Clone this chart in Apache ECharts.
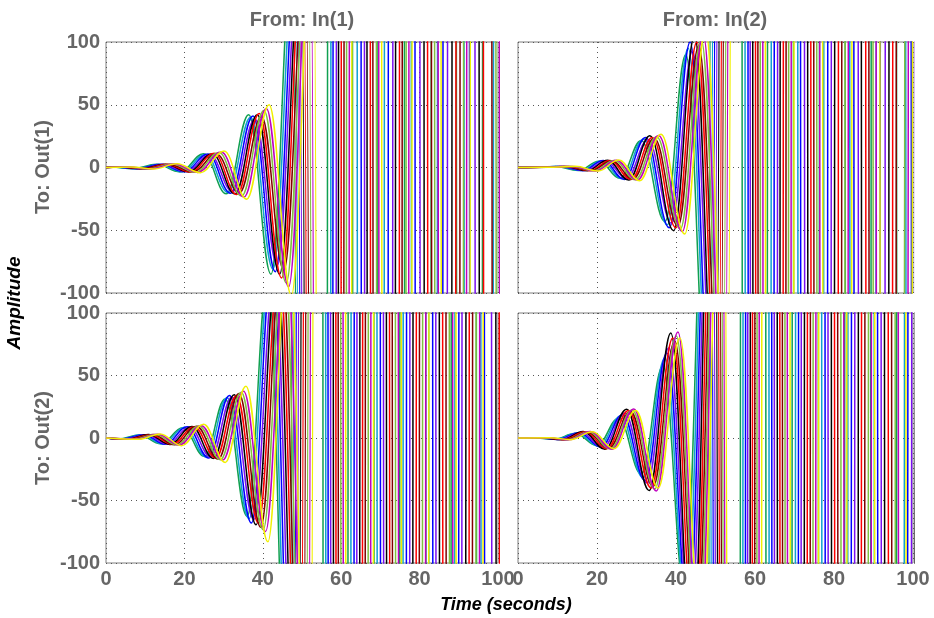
<!DOCTYPE html>
<html><head><meta charset="utf-8">
<script src="https://cdn.jsdelivr.net/npm/echarts@6.0.0/dist/echarts.min.js"></script>
<style>html,body{margin:0;padding:0;background:#fff}#c{width:934px;height:618px}</style>
</head><body><div id="c"></div>
<script>
// Tick labels
const timeTicks = [0, 20, 40, 60, 80, 100];
const ampTicks = [-100, -50, 0, 50, 100];
const colTitles = ['From: In(1)', 'From: In(2)'];
const rowTitles = ['To: Out(1)', 'To: Out(2)'];
const modelNames = ['m1','m2','m3','m4','m5','m6','m7','m8','m9','m10'];
const modelColors = ['#10a050','#10a0d0','#0000ff','#7a10f0','#000000','#ff0000','#800000','#80c040','#c000c0','#f0f000'];

// Step responses [time, amplitude], In(1) -> Out(1)
const TL = [
 [[0,0],[1.4,.3],[6.9,-1],[12.9,2.5],[18.9,-3.5],[24.9,11],[30.7,-21],[36.4,42],[42.1,-85],[47.7,180],[53.4,-1e4],[59.6,1e4],[66.2,-1e4],[72.5,1e4],[79.8,-1e4],[86.1,1e4],[92.7,-1e4],[99.4,1e4],[105,-1e4]],
 [[0,0],[1.9,.3],[7.4,-1],[13.4,2.4],[19.4,-3.3],[25.4,10.5],[31.2,-20],[36.9,40],[42.6,-81],[48.2,171],[53.9,-1e4],[60.8,1e4],[67.4,-1e4],[74.6,1e4],[81.2,-1e4],[87.9,1e4],[94.8,-1e4],[101,1e4]],
 [[0,0],[2.5,.3],[8,-1],[14,2.5],[20,-3.4],[26,10.8],[31.8,-20.6],[37.5,41],[43.2,-83],[48.8,176],[54.5,-1e4],[61.3,1e4],[68.9,-1e4],[75.1,1e4],[82.6,-1e4],[89.3,1e4],[96.2,-1e4],[103,1e4]],
 [[0,0],[3,.3],[8.5,-.9],[14.5,2.3],[20.5,-3.2],[26.5,10.1],[32.3,-19.3],[38,38.6],[43.7,-78],[49.3,166],[55.1,-1e4],[62.4,1e4],[69.5,-1e4],[76.8,1e4],[83.4,-1e4],[90.8,1e4],[97.5,-1e4],[104,1e4]],
 [[0,0],[3.6,.3],[9.1,-1],[15.1,2.5],[21.1,-3.5],[27.1,11],[32.9,-21],[38.6,42],[44.3,-85],[49.9,180],[55.7,-1e4],[62.9,1e4],[70.3,-1e4],[77.4,1e4],[84.9,-1e4],[91.6,1e4],[98.8,-1e4],[105,1e4]],
 [[0,0],[4.1,.3],[9.6,-1],[15.6,2.6],[21.6,-3.6],[27.6,11.3],[33.4,-21.6],[39.1,43],[44.8,-88],[50.4,185],[56.3,-1e4],[63.7,1e4],[71.2,-1e4],[78.5,1e4],[85.6,-1e4],[92.9,1e4],[99.7,-1e4],[106,1e4]],
 [[0,0],[4.7,.3],[10.2,-1],[16.2,2.4],[22.2,-3.4],[28.2,10.7],[34,-20.4],[39.7,40.7],[45.4,-82],[51,175],[57,-1e4],[64.4,1e4],[71.8,-1e4],[79.3,1e4],[86.8,-1e4],[93.8,1e4],[101,-1e4]],
 [[0,0],[5.3,.3],[10.8,-1.1],[16.8,2.7],[22.8,-3.8],[28.8,11.9],[34.6,-22.7],[40.3,45.4],[46,-92],[51.6,194],[57.6,-1e4],[65.1,1e4],[72.9,-1e4],[80.2,1e4],[87.5,-1e4],[94.9,1e4],[102,-1e4]],
 [[0,0],[5.9,.3],[11.4,-1.1],[17.4,2.8],[23.4,-3.9],[29.4,12.3],[35.2,-23.5],[40.9,47],[46.6,-95],[52.2,202],[58.3,-1e4],[65.8,1e4],[73.4,-1e4],[81.1,1e4],[88.4,-1e4],[95.6,1e4],[103,-1e4]],
 [[0,0],[6.6,.4],[12.1,-1.2],[18.1,3],[24.1,-4.2],[30.1,13.2],[35.9,-25.2],[41.6,50],[47.3,-102],[52.9,216],[58.9,-1e4],[66.5,1e4],[74.2,-1e4],[81.9,1e4],[89.1,-1e4],[96.7,1e4],[104,-1e4]]
];
// In(2) -> Out(1)
const TR = [
 [[0,0],[4,.2],[9.5,.7],[15.3,-2.3],[20.5,5],[25.8,-8.6],[31.2,21.6],[37.2,-43],[42.5,90],[48,-189],[53.6,1e4],[59.9,-1e4],[66.4,1e4],[73.1,-1e4],[79.5,1e4],[86.2,-1e4],[92.6,1e4],[99.1,-1e4],[105,1e4]],
 [[0,0],[4.6,.2],[10.1,.8],[15.9,-2.4],[21.1,5.2],[26.4,-9],[31.8,22.8],[37.8,-45.6],[43.1,95],[48.6,-200],[54.3,1e4],[60.7,-1e4],[67.5,1e4],[74.2,-1e4],[80.6,1e4],[87.4,-1e4],[93.9,1e4],[100.5,-1e4]],
 [[0,0],[5.1,.2],[10.6,.8],[16.4,-2.5],[21.6,5.5],[26.9,-9.5],[32.3,24],[38.3,-48],[43.6,100],[49.1,-210],[54.9,1e4],[61.6,-1e4],[68.1,1e4],[75,-1e4],[81.8,1e4],[88.3,-1e4],[95.1,1e4],[102,-1e4]],
 [[0,0],[5.7,.2],[11.2,.7],[17,-2.3],[22.2,5.1],[27.5,-8.8],[32.9,22.3],[38.9,-44.6],[44.2,93],[49.7,-195],[55.4,1e4],[62.2,-1e4],[69.2,1e4],[75.9,-1e4],[82.7,1e4],[89.6,-1e4],[96.3,1e4],[103,-1e4]],
 [[0,0],[6.2,.2],[11.7,.8],[17.5,-2.6],[22.7,5.8],[28,-10],[33.4,25.2],[39.4,-50.4],[44.7,105],[50.2,-220],[56.1,1e4],[62.8,-1e4],[69.9,1e4],[76.8,-1e4],[83.5,1e4],[90.4,-1e4],[97.4,1e4],[104,-1e4]],
 [[0,0],[6.8,.2],[12.3,.8],[18.1,-2.5],[23.3,5.5],[28.6,-9.5],[34,24],[40,-48],[45.3,100],[50.8,-210],[56.7,1e4],[63.6,-1e4],[70.7,1e4],[77.6,-1e4],[84.6,1e4],[91.5,-1e4],[98.2,1e4],[105,-1e4]],
 [[0,0],[7.3,.2],[12.8,.8],[18.6,-2.4],[23.8,5.3],[29.1,-9.2],[34.5,23.3],[40.5,-46.6],[45.8,97],[51.3,-204],[57.2,1e4],[64.3,-1e4],[71.4,1e4],[78.4,-1e4],[85.5,1e4],[92.2,-1e4],[99.3,1e4],[106,-1e4]],
 [[0,0],[7.9,.2],[13.4,.8],[19.2,-2.6],[24.4,5.6],[29.7,-9.7],[35.1,24.5],[41.1,-49],[46.4,102],[51.9,-214],[57.8,1e4],[64.9,-1e4],[72.1,1e4],[79.2,-1e4],[86.4,1e4],[93.4,-1e4],[100.3,1e4]],
 [[0,0],[8.4,.2],[13.9,.8],[19.7,-2.7],[24.9,5.8],[30.2,-10],[35.6,25.4],[41.6,-51],[46.9,106],[52.4,-223],[58.4,1e4],[65.6,-1e4],[72.7,1e4],[80.1,-1e4],[87.1,1e4],[94.3,-1e4],[101.2,1e4]],
 [[0,0],[9,.2],[14.5,.9],[20.3,-2.8],[25.5,6],[30.8,-10.5],[36.2,26.4],[42.2,-53],[47.5,110],[53,-231],[59.1,1e4],[66.2,-1e4],[73.5,1e4],[80.8,-1e4],[88.2,1e4],[95.1,-1e4],[102.4,1e4]]
];
// In(1) -> Out(2)
const BL = [
 [[0,0],[3.2,-.7],[8.5,2.5],[14,-4.6],[19.6,8.3],[25.1,-14.7],[30.4,31.3],[36,-62.6],[41.3,129],[46.7,-276],[52.3,1e4],[58.4,-1e4],[65.1,1e4],[71.6,-1e4],[78.3,1e4],[84.9,-1e4],[91.2,1e4],[97.8,-1e4],[104,1e4]],
 [[0,0],[3.7,-.8],[9,2.6],[14.5,-4.8],[20.1,8.6],[25.6,-15.2],[30.9,32.3],[36.5,-64.6],[41.8,133],[47.2,-285],[52.9,1e4],[59.2,-1e4],[65.8,1e4],[72.5,-1e4],[79.1,1e4],[85.6,-1e4],[92.4,1e4],[98.9,-1e4],[105,1e4]],
 [[0,0],[4.3,-.8],[9.6,2.7],[15.1,-5],[20.7,9],[26.2,-16],[31.5,34],[37.1,-68],[42.4,140],[47.8,-300],[53.4,1e4],[59.9,-1e4],[66.7,1e4],[73.3,-1e4],[80,1e4],[86.7,-1e4],[93.3,1e4],[99.8,-1e4],[106,1e4]],
 [[0,0],[4.9,-.8],[10.2,2.6],[15.7,-4.8],[21.3,8.6],[26.8,-15.4],[32.1,32.6],[37.7,-65.3],[43,134],[48.4,-288],[54,1e4],[60.6,-1e4],[67.4,1e4],[74.2,-1e4],[80.8,1e4],[87.5,-1e4],[94.1,1e4],[100.7,-1e4]],
 [[0,0],[5.5,-.8],[10.8,2.8],[16.3,-5.1],[21.9,9.2],[27.4,-16.3],[32.7,34.7],[38.3,-69.4],[43.6,143],[49,-306],[54.7,1e4],[61.3,-1e4],[68.2,1e4],[74.9,-1e4],[81.7,1e4],[88.4,-1e4],[95.2,1e4],[101.8,-1e4]],
 [[0,0],[6.1,-.8],[11.4,2.7],[16.9,-5],[22.5,9],[28,-16],[33.3,34],[38.9,-68],[44.2,140],[49.6,-300],[55.3,1e4],[62,-1e4],[68.9,1e4],[75.8,-1e4],[82.5,1e4],[89.3,-1e4],[96,1e4],[102.7,-1e4]],
 [[0,0],[6.7,-.8],[12,2.8],[17.5,-5.3],[23.1,9.5],[28.6,-16.8],[33.9,35.7],[39.5,-71.4],[44.8,147],[50.2,-315],[55.8,1e4],[62.7,-1e4],[69.6,1e4],[76.5,-1e4],[83.4,1e4],[90.1,-1e4],[96.9,1e4],[103.6,-1e4]],
 [[0,0],[7.3,-.9],[12.6,2.9],[18.1,-5.4],[23.7,9.7],[29.2,-17.3],[34.5,36.7],[40.1,-73.4],[45.4,151],[50.8,-324],[56.4,1e4],[63.4,-1e4],[70.4,1e4],[77.3,-1e4],[84.2,1e4],[91,-1e4],[97.8,1e4],[104.5,-1e4]],
 [[0,0],[7.9,-.9],[13.2,3],[18.7,-5.5],[24.3,9.9],[29.8,-17.6],[35.1,37.4],[40.7,-74.8],[46,154],[51.4,-330],[57,1e4],[64,-1e4],[71.1,1e4],[78.1,-1e4],[85,1e4],[91.9,-1e4],[98.7,1e4],[105.4,-1e4]],
 [[0,0],[8.5,-1],[13.8,3.3],[19.3,-6.1],[24.9,11],[30.4,-19.5],[35.7,41.5],[41.3,-83],[46.6,171],[52,-366],[57.6,1e4],[64.7,-1e4],[71.8,1e4],[78.9,-1e4],[85.8,1e4],[92.8,-1e4],[99.6,1e4],[106,-1e4]]
];
// In(2) -> Out(2)
const BR = [
 [[0,0],[3.7,.2],[9.1,-.9],[14.5,3.6],[20,-6.1],[25.5,15.8],[31.2,-28.8],[36.7,57.6],[42.2,-122],[47.7,252],[53.1,-1e4],[59.5,1e4],[66,-1e4],[72.8,1e4],[79.3,-1e4],[86.1,1e4],[92.5,-1e4],[99.2,1e4],[105,-1e4]],
 [[0,0],[4.2,.2],[9.6,-1],[15,4],[20.5,-6.8],[26,17.6],[31.7,-32],[37.2,64],[42.7,-136],[48.2,280],[53.7,-1e4],[60.2,1e4],[66.9,-1e4],[73.6,1e4],[80.2,-1e4],[86.8,1e4],[93.6,-1e4],[100.1,1e4]],
 [[0,0],[4.7,.3],[10.1,-1.1],[15.5,4.3],[21,-7.2],[26.5,18.7],[32.2,-34],[37.7,68],[43.2,-145],[48.7,298],[54.3,-1e4],[60.9,1e4],[67.6,-1e4],[74.4,1e4],[81.1,-1e4],[87.7,1e4],[94.4,-1e4],[101,1e4]],
 [[0,0],[5.2,.3],[10.6,-1.2],[16,4.5],[21.5,-7.7],[27,19.8],[32.7,-36],[38.2,72],[43.7,-153],[49.2,315],[54.8,-1e4],[61.5,1e4],[68.3,-1e4],[75.1,1e4],[81.9,-1e4],[88.6,1e4],[95.3,-1e4],[102,1e4]],
 [[0,0],[5.7,.3],[11.1,-1.4],[16.5,5.3],[22,-8.9],[27.5,23.1],[33.2,-42],[38.7,84],[44.2,-179],[49.7,368],[55.4,-1e4],[62.2,1e4],[69.1,-1e4],[75.9,1e4],[82.8,-1e4],[89.5,1e4],[96.1,-1e4],[103,1e4]],
 [[0,0],[6.2,.3],[11.6,-1.3],[17,5],[22.5,-8.5],[28,22],[33.7,-40],[39.2,80],[44.7,-170],[50.2,350],[55.9,-1e4],[62.8,1e4],[69.8,-1e4],[76.7,1e4],[83.6,-1e4],[90.3,1e4],[97.2,-1e4],[104,1e4]],
 [[0,0],[6.7,.3],[12.1,-1.3],[17.5,4.9],[23,-8.2],[28.5,21.3],[34.2,-38.8],[39.7,77.6],[45.2,-165],[50.7,340],[56.5,-1e4],[63.4,1e4],[70.5,-1e4],[77.5,1e4],[84.4,-1e4],[91.2,1e4],[98,-1e4],[104.8,1e4]],
 [[0,0],[7.1,.3],[12.5,-1.3],[17.9,5.1],[23.4,-8.7],[28.9,22.4],[34.6,-40.8],[40.1,81.6],[45.6,-173],[51.1,357],[57,-1e4],[64,1e4],[71.2,-1e4],[78.2,1e4],[85.3,-1e4],[92.1,1e4],[98.9,-1e4],[105.6,1e4]],
 [[0,0],[7.5,.3],[12.9,-1.4],[18.3,5.3],[23.8,-9],[29.3,23.3],[35,-42.4],[40.5,84.8],[46,-180],[51.5,371],[57.5,-1e4],[64.6,1e4],[71.8,-1e4],[79,1e4],[86,-1e4],[92.9,1e4],[99.7,-1e4],[106,1e4]],
 [[0,0],[8,.3],[13.4,-1.3],[18.8,5],[24.3,-8.5],[29.8,22],[35.5,-40],[41,80],[46.5,-170],[52,350],[58.1,-1e4],[65.3,1e4],[72.5,-1e4],[79.7,1e4],[86.8,-1e4],[93.8,1e4],[100.6,-1e4]]
];

const panels = [TL, TR, BL, BR];
const FONT = '"Liberation Sans", Arial, sans-serif';
const labelGray = '#666666';

const grids = [
  {left: 106, top: 42, width: 392, height: 251},
  {left: 518, top: 42, width: 395, height: 251},
  {left: 106, top: 313, width: 392, height: 250},
  {left: 518, top: 313, width: 395, height: 250}
].map(g => Object.assign(g, {show: true, borderColor: '#7f7f7f', borderWidth: 1, backgroundColor: '#fff'}));

const splitStyle = {show: true, lineStyle: {type: [1, 4], color: '#555', width: 1}};
const xAxes = grids.map((g, i) => ({
  type: 'value', gridIndex: i,
  min: timeTicks[0], max: timeTicks[timeTicks.length - 1], interval: timeTicks[1] - timeTicks[0],
  axisLine: {show: false}, axisTick: {show: false},
  axisLabel: {show: i >= 2, color: labelGray, fontSize: 20, fontWeight: 'bold', fontFamily: FONT, margin: 6, showMinLabel: true, showMaxLabel: true},
  splitLine: splitStyle
}));
const yAxes = grids.map((g, i) => ({
  type: 'value', gridIndex: i,
  min: ampTicks[0], max: ampTicks[ampTicks.length - 1], interval: ampTicks[1] - ampTicks[0],
  axisLine: {show: false}, axisTick: {show: false},
  axisLabel: {show: i % 2 === 0, color: labelGray, fontSize: 20, fontWeight: 'bold', fontFamily: FONT, margin: 6, showMinLabel: true, showMaxLabel: true},
  splitLine: splitStyle
}));

const series = [];
panels.forEach((rows, p) => {
  rows.forEach((data, k) => {
    series.push({
      type: 'line', name: modelNames[k], xAxisIndex: p, yAxisIndex: p,
      data: data, showSymbol: false, symbol: 'none',
      smooth: 0.4, smoothMonotone: 'x', clip: true, silent: true,
      lineStyle: {width: 1.5, color: modelColors[k]}, z: 3
    });
  });
});

function txt(text, x, y, opts) {
  return Object.assign({
    type: 'text', x: x, y: y, silent: true, z: 100,
    style: Object.assign({
      text: text, fill: labelGray, font: 'bold 20px ' + FONT,
      align: 'center', verticalAlign: 'middle', textAlign: 'center', textVerticalAlign: 'middle'
    }, opts && opts.style)
  }, opts && opts.el);
}

const graphic = [
  txt(colTitles[0], 302, 20),
  txt(colTitles[1], 715, 20),
  txt(rowTitles[0], 43, 167, {el: {rotation: Math.PI / 2}}),
  txt(rowTitles[1], 43, 438, {el: {rotation: Math.PI / 2}}),
  txt('Amplitude', 15, 303, {el: {rotation: Math.PI / 2}, style: {fill: '#000', font: 'italic bold 19px ' + FONT}}),
  txt('Time (seconds)', 506, 605, {style: {fill: '#000', font: 'italic bold 18px ' + FONT}})
];

const chart = echarts.init(document.getElementById('c'), null, {renderer: 'canvas'});
chart.setOption({
  animation: false,
  backgroundColor: '#fff',
  grid: grids, xAxis: xAxes, yAxis: yAxes,
  series: series, graphic: graphic
});
</script></body></html>
